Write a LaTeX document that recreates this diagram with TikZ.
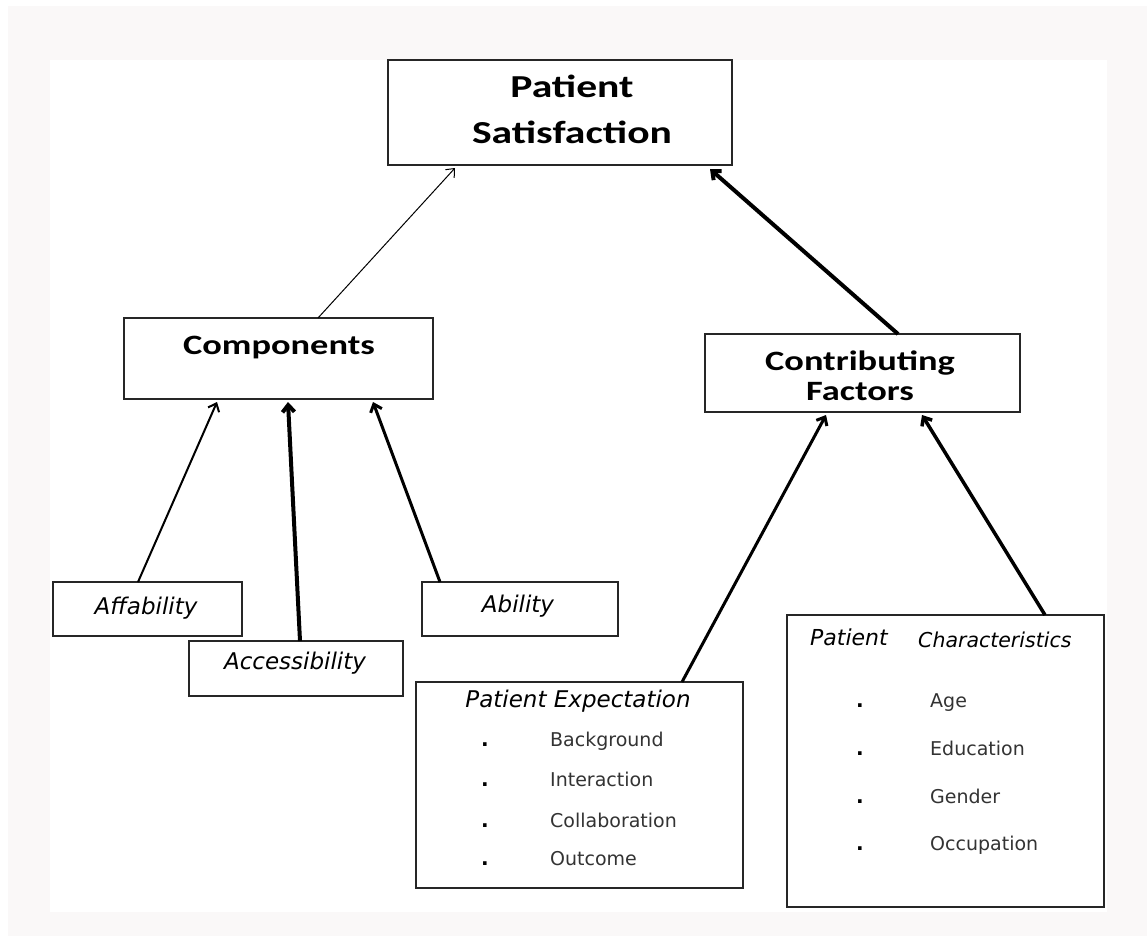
\documentclass[tikz,border=0pt]{standalone}
\usepackage{fontspec}
\setmainfont{DejaVu Sans}[ItalicFont={DejaVu Sans Oblique},BoldFont={DejaVu Sans Bold}]
\newfontfamily\headfont[FakeStretch=1.3]{Carlito}
\usetikzlibrary{arrows.meta}
\definecolor{pagegray}{HTML}{FAF8F8}
\definecolor{itemgray}{HTML}{333333}
\tikzset{
  box/.style={draw=black!85,line width=1.5pt,inner sep=0pt,outer sep=0pt},
  head/.style={font=\headfont\bfseries\fontsize{28}{32}\selectfont,anchor=base,inner sep=0pt},
  lbl/.style={font=\itshape\fontsize{23}{26}\selectfont,anchor=base,inner sep=0pt},
  item/.style={font=\fontsize{19}{22}\selectfont,text=itemgray,anchor=base west,inner sep=0pt},
  dot/.style={item,font=\bfseries\fontsize{20}{22}\selectfont,text=black},
  arr/.style={-{Straight Barb[length=7pt,width=12pt]},black}
}
\begin{document}
\begin{tikzpicture}[x=1pt,y=-1pt]
  \useasboundingbox (0,0) rectangle (1147,936);
  \fill[pagegray] (8,6) rectangle (1147,936);
  \fill[white] (50,60) rectangle (1107,912);
  % boxes
  \node[box,minimum width=344,minimum height=105] at (560,112.5) (ps) {};
  \node[box,minimum width=309,minimum height=81] at (278.5,358.5) (comp) {};
  \node[box,minimum width=315,minimum height=78] at (862.5,373) (cf) {};
  \node[box,minimum width=189,minimum height=54] at (147.5,609) (aff) {};
  \node[box,minimum width=214,minimum height=55] at (296,668.5) (acc) {};
  \node[box,minimum width=196,minimum height=54] at (520,609) (abil) {};
  \node[box,minimum width=327,minimum height=206] at (579.5,785) (pe) {};
  \node[box,minimum width=317,minimum height=292] at (945.5,761) (pc) {};
  % headings
  \node[head,font=\headfont\bfseries\fontsize{32}{36}\selectfont] at (572,98) (pstop) {Patient};
  \node[head,font=\headfont\bfseries\fontsize{32}{36}\selectfont] at (572,144) (psbot) {Satisfaction};
  \node[head] at (279,354) (comptext) {Components};
  \node[head] at (860,370) (cftop) {Contributing};
  \node[head] at (860,400) (cfbot) {Factors};
  \node[lbl] at (146,614) (afftext) {Affability};
  \node[lbl] at (295,669) (acctext) {Accessibility};
  \node[lbl] at (518,612) (abiltext) {Ability};
  % patient expectation
  \node[lbl] at (578,707) (petitle) {Patient Expectation};
  \node[dot] at (481,746) (pedot1) {.};
  \node[item] at (550,746) (pe1) {Background};
  \node[dot] at (481,786) (pedot2) {.};
  \node[item] at (550,786) (pe2) {Interaction};
  \node[dot] at (481,827) (pedot3) {.};
  \node[item] at (550,827) (pe3) {Collaboration};
  \node[dot] at (481,865) (pedot4) {.};
  \node[item] at (550,865) (pe4) {Outcome};
  % patient characteristics
  \node[lbl,anchor=base west,font=\itshape\fontsize{22}{26}\selectfont] at (810,645) (pctitle) {Patient};
  \node[lbl,anchor=base west,font=\itshape\fontsize{20.5}{26}\selectfont] at (918,647) (pctitle2) {Characteristics};
  \node[dot] at (856,707) (pcdot1) {.};
  \node[item] at (930,707) (pc1) {Age};
  \node[dot] at (856,755) (pcdot2) {.};
  \node[item] at (930,755) (pc2) {Education};
  \node[dot] at (856,803) (pcdot3) {.};
  \node[item] at (930,803) (pc3) {Gender};
  \node[dot] at (856,850) (pcdot4) {.};
  \node[item] at (930,850) (pc4) {Occupation};
  % arrows
  \draw[arr,line width=1pt] ([xshift=39.5pt]comp.north) -- ([xshift=-105pt,yshift=-3pt]ps.south);
  \draw[arr,line width=4pt] ([xshift=35.5pt]cf.north) -- ([xshift=150pt,yshift=-4pt]ps.south);
  \draw[arr,line width=2pt] ([xshift=-9.5pt]aff.north) -- ([xshift=-61.5pt,yshift=-3pt]comp.south);
  \draw[arr,line width=4pt] ([xshift=4pt]acc.north) -- ([xshift=9.5pt,yshift=-3pt]comp.south);
  \draw[arr,line width=3pt] ([xshift=-80pt]abil.north) -- ([xshift=94.5pt,yshift=-3pt]comp.south);
  \draw[arr,line width=3pt] ([xshift=102.5pt]pe.north) -- ([xshift=-36.5pt,yshift=-3pt]cf.south);
  \draw[arr,line width=3.5pt] ([xshift=99.5pt]pc.north) -- ([xshift=59.5pt,yshift=-3pt]cf.south);
\end{tikzpicture}
\end{document}
